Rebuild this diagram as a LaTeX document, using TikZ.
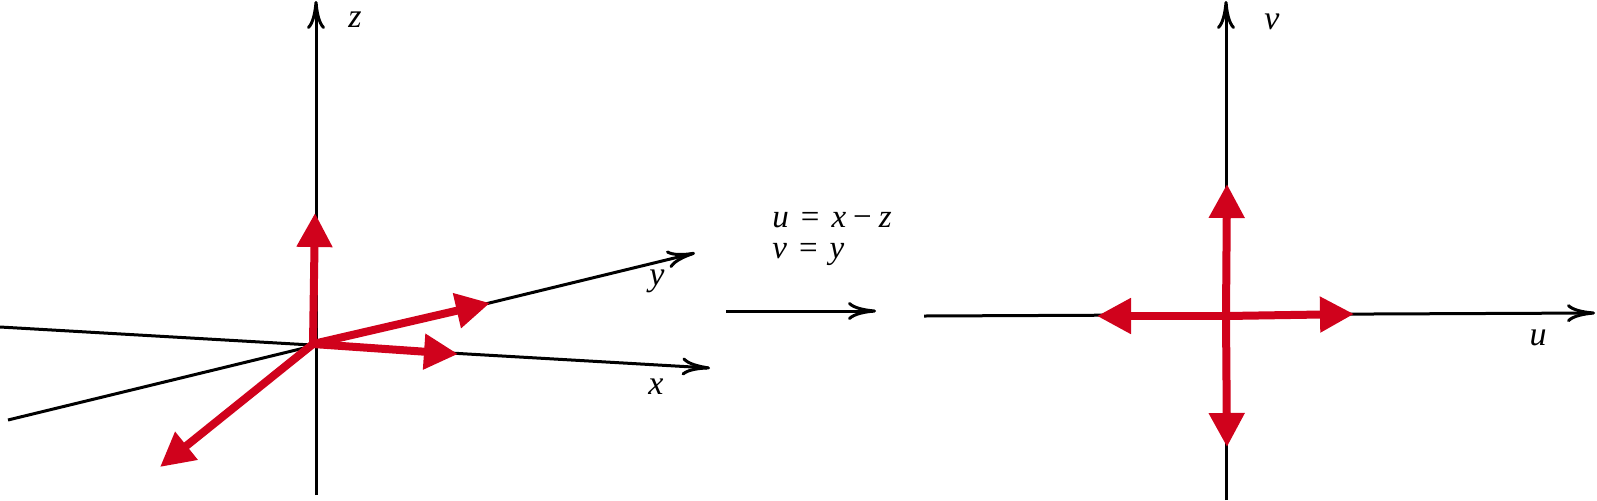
\documentclass[tikz,border=0pt]{standalone}
\usepackage{fontspec}
\setmainfont{Liberation Serif}
\usetikzlibrary{arrows.meta}
\definecolor{vecred}{RGB}{208,2,28}
\tikzset{
  axis/.style={line width=1.5pt, black, -{Computer Modern Rightarrow[length=14pt,width=9pt]}},
  vec/.style={line width=4pt, vecred, -{Triangle[length=17pt,width=17pt]}},
  lbl/.style={font=\fontsize{17}{20}\selectfont\itshape, inner sep=0pt},
  eqn/.style={font=\fontsize{16.5}{20}\selectfont, inner sep=0pt, anchor=base west},
}
\begin{document}
\begin{tikzpicture}[x=0.5pt,y=-0.5pt]
\useasboundingbox (0,0) rectangle (1597,500);
% ---- left 3D axes ----
\coordinate (O) at (316,345);
\coordinate (ro) at (313,344);
\coordinate (xs) at (0,327);
\coordinate (xe) at (710,368);
\coordinate (ys) at (8,420);
\coordinate (ye) at (695,253);
\coordinate (zs) at (316,495);
\coordinate (ze) at (316,1);
\draw[axis] (xs) -- (xe);
\draw[axis] (ys) -- (ye);
\draw[axis] (zs) -- (ze);
\node[lbl] (lz) at (355,20) {z};
\node[lbl] (ly) at (657,281) {y};
\node[lbl] (lx) at (656,387) {x};
% red vectors
\coordinate (vz) at (315,213);
\coordinate (vy) at (490,303);
\coordinate (vx) at (458,354);
\coordinate (vd) at (160,467);
\draw[vec] (ro) -- (vz);
\draw[vec] (ro) -- (vy);
\draw[vec] (ro) -- (vx);
\draw[vec] (ro) -- (vd);
% ---- middle ----
\node[eqn] (eq1) at (772,227)
  {\textit{u}\hspace{6pt}=\hspace{6pt}\textit{x}\hspace{3.5pt}−\hspace{3.5pt}\textit{z}};
\node[eqn] (eq2) at (772,258)
  {\textit{v}\hspace{6pt}=\hspace{6pt}\textit{y}};
\coordinate (ms) at (726,311);
\coordinate (me) at (876,311);
\draw[axis] (ms) -- (me);
% ---- right 2D axes ----
\coordinate (C) at (1226,316);
\coordinate (us) at (924,316);
\coordinate (ue) at (1595,313);
\coordinate (vs) at (1226,500);
\coordinate (ve) at (1226,1);
\draw[axis] (us) -- (ue);
\draw[axis] (vs) -- (ve);
\node[lbl] (lu) at (1538,338) {u};
\node[lbl] (lv) at (1272,22) {v};
\coordinate (rt) at (1354,314);
\coordinate (lt) at (1097,316);
\coordinate (up) at (1227,184);
\coordinate (dn) at (1227,447);
\draw[vec] (C) -- (rt);
\draw[vec] (C) -- (lt);
\draw[vec] (C) -- (up);
\draw[vec] (C) -- (dn);
\end{tikzpicture}
\end{document}
